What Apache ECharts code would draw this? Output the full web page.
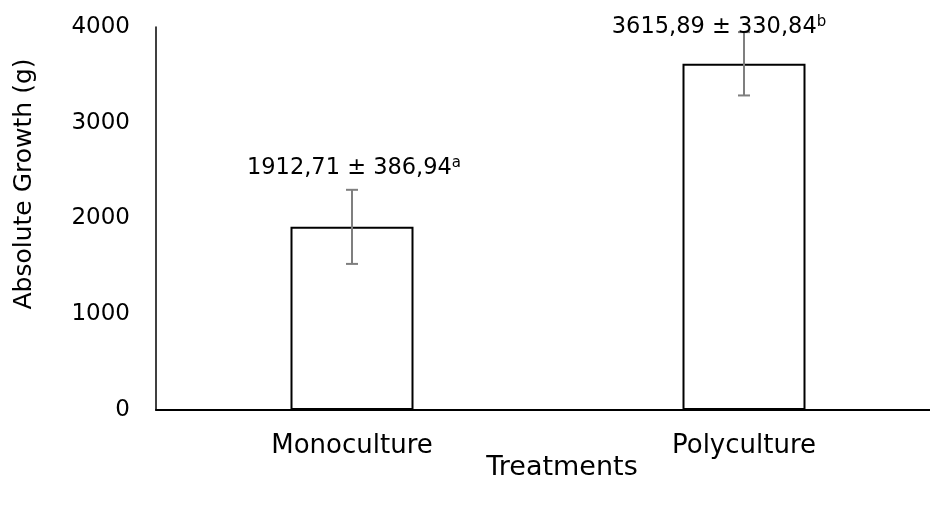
<!DOCTYPE html>
<html>
<head>
<meta charset="utf-8">
<script src="https://cdn.jsdelivr.net/npm/echarts@6/dist/echarts.min.js"></script>
<style>
  html, body { margin: 0; padding: 0; background: #fff; }
  #chart { width: 930px; height: 510px; }
</style>
</head>
<body>
<div id="chart"></div>
<script>
// Treatment groups and their mean absolute growth with standard deviation
const categories = ['Monoculture', 'Polyculture'];
const means = [1912.71, 3615.89];
const stdDevs = [386.94, 330.84];
const groupLetters = ['a', 'b'];
const yTicks = [0, 1000, 2000, 3000, 4000];

const FONT = 'DejaVu Sans';
const fmt = v => v.toFixed(2).replace('.', ',');

// pixel placement of each value label relative to its bar top
const labelLift = [59, 37];
const labelShift = [2, -25];

const chart = echarts.init(document.getElementById('chart'));

chart.setOption({
  animation: false,
  backgroundColor: '#fff',
  textStyle: { fontFamily: FONT, color: '#000' },
  grid: {
    left: 156, width: 784, top: 27, bottom: 100,
    containLabel: false, outerBoundsMode: 'none'
  },
  xAxis: {
    type: 'category',
    data: categories,
    axisLine: { lineStyle: { color: '#000', width: 2 } },
    axisTick: { show: false },
    axisLabel: { fontFamily: FONT, fontSize: 26, color: '#000', margin: 23 }
  },
  yAxis: {
    type: 'value',
    min: yTicks[0],
    max: yTicks[yTicks.length - 1],
    interval: 1000,
    axisLine: { show: true, lineStyle: { color: '#000', width: 1.5 } },
    axisTick: { show: false },
    splitLine: { show: false },
    axisLabel: {
      fontFamily: FONT, fontSize: 23, color: '#000', margin: 26,
      formatter: v => String(v)
    }
  },
  graphic: [
    {
      type: 'text',
      x: 24, y: 184,
      rotation: Math.PI / 2,
      style: {
        text: 'Absolute Growth (g)',
        fontFamily: FONT,
        fontSize: 25,
        fill: '#000',
        align: 'center',
        verticalAlign: 'middle'
      }
    },
    {
      type: 'text',
      x: 562, y: 468,
      style: {
        text: 'Treatments',
        fontFamily: FONT,
        fontSize: 27,
        fill: '#000',
        align: 'center',
        verticalAlign: 'middle'
      }
    }
  ],
  series: [
    {
      type: 'bar',
      data: means,
      barWidth: 123,
      itemStyle: { color: '#fff', borderColor: '#000', borderWidth: 2 },
      z: 2
    },
    {
      // standard deviation whiskers
      type: 'custom',
      data: means.map((m, i) => [i, m - stdDevs[i], m + stdDevs[i]]),
      z: 3,
      renderItem: function (params, api) {
        const lo = api.coord([api.value(0), api.value(1)]);
        const hi = api.coord([api.value(0), api.value(2)]);
        const cap = 6;
        const style = { stroke: '#7f7f7f', lineWidth: 2 };
        return {
          type: 'group',
          children: [
            { type: 'line', shape: { x1: lo[0], y1: lo[1], x2: hi[0], y2: hi[1] }, style },
            { type: 'line', shape: { x1: lo[0] - cap, y1: lo[1], x2: lo[0] + cap, y2: lo[1] }, style },
            { type: 'line', shape: { x1: hi[0] - cap, y1: hi[1], x2: hi[0] + cap, y2: hi[1] }, style }
          ]
        };
      }
    },
    {
      // mean ± SD labels with significance letters
      type: 'custom',
      data: means.map((m, i) => [i, m]),
      z: 4,
      renderItem: function (params, api) {
        const i = params.dataIndex;
        const top = api.coord([api.value(0), api.value(1)]);
        return {
          type: 'text',
          x: top[0] + labelShift[i],
          y: top[1] - labelLift[i],
          style: {
            text: fmt(means[i]) + ' ± ' + fmt(stdDevs[i]) + '{sup|' + groupLetters[i] + '}',
            rich: {
              sup: { fontFamily: FONT, fontSize: 15, fill: '#000', padding: [0, 0, 10, 0] }
            },
            fontFamily: FONT,
            fontSize: 22.5,
            fill: '#000',
            align: 'center',
            verticalAlign: 'middle'
          }
        };
      }
    }
  ]
});
</script>
</body>
</html>
